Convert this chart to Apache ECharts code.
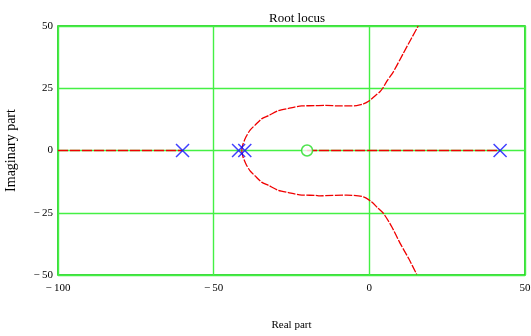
<!DOCTYPE html>
<html>
<head>
<meta charset="utf-8">
<script src="https://cdn.jsdelivr.net/npm/echarts@6/dist/echarts.min.js"></script>
<style>html,body{margin:0;padding:0;background:#fff}#c{width:531px;height:336px}</style>
</head>
<body>
<div id="c"></div>
<script>
// Data
const poles = [[-60, 0], [-42, 0], [-40, 0], [42, 0]];
const zeros = [[-20, 0]];
const realSegLeft = [[-100, 0], [-60, 0]];
const realSegRight = [[-20, 0], [42, 0]];
const upperRe = [-41, -40.6, -39.6, -38.3, -36.7, -34.6, -32.4, -29.2, -26.0, -21.7, -17.4, -14.2, -9.4, -4.1, -1.9, 0, 1.8, 3.4, 4.5, 5.5, 7.7, 10.9, 13.5, 15.7];
const upperIm = [0, 2.5, 5.5, 8.2, 10.2, 12.7, 14.0, 16.0, 16.9, 17.9, 18.0, 18.1, 17.9, 18.0, 18.7, 20.0, 21.9, 23.6, 25.4, 27.6, 31.6, 39.0, 45.0, 50.0];
const lowerRe = [-41, -40.6, -39.6, -38.3, -36.7, -34.6, -32.4, -29.2, -26.0, -21.7, -17.4, -15.9, -7.3, -1.9, 0.7, 2.8, 4.5, 7.2, 9.9, 12.6, 15.2];
const lowerIm = [0, -2.5, -5.5, -8.2, -10.2, -12.7, -14.0, -16.0, -16.9, -17.9, -18.0, -18.2, -17.9, -18.6, -20.6, -23.2, -25.2, -30.6, -37.3, -43.3, -49.7];
const xTicks = { min: -100, max: 50, step: 50 };
const yTicks = { min: -50, max: 50, step: 25 };

const upper = upperRe.map((r, i) => [r, upperIm[i]]);
const lower = lowerRe.map((r, i) => [r, lowerIm[i]]);
const fmt = v => v < 0 ? '\u2212\u2009' + Math.abs(v) : String(v);
const font = 'Liberation Serif';
const red = '#f00000';

const chart = echarts.init(document.getElementById('c'), null, { renderer: 'canvas' });
chart.setOption({
  animation: false,
  backgroundColor: '#fff',
  title: {
    text: 'Root locus', left: 292, top: 7, textAlign: 'center',
    textStyle: { fontFamily: font, fontSize: 13, fontWeight: 'normal', color: '#000' }
  },
  grid: { left: 58, top: 26, width: 467, height: 249, outerBoundsMode: 'none', containLabel: false,
          show: true, borderColor: '#00c800', borderWidth: 1.5, backgroundColor: 'transparent' },
  xAxis: {
    type: 'value', min: xTicks.min, max: xTicks.max, interval: xTicks.step,
    name: 'Real part', nameLocation: 'middle', nameGap: 45,
    nameTextStyle: { fontFamily: font, fontSize: 11, color: '#000' },
    axisLine: { show: false }, axisTick: { show: false },
    axisLabel: { formatter: fmt, fontFamily: font, fontSize: 11, color: '#000', margin: 8 },
    splitLine: { show: true, lineStyle: { color: '#44f044', width: 1.4 } }
  },
  yAxis: {
    type: 'value', min: yTicks.min, max: yTicks.max, interval: yTicks.step,
    name: 'Imaginary part', nameLocation: 'middle', nameGap: 40,
    nameTextStyle: { fontFamily: font, fontSize: 14, color: '#000' },
    axisLine: { show: false }, axisTick: { show: false },
    axisLabel: { formatter: fmt, fontFamily: font, fontSize: 11, color: '#000', margin: 5 },
    splitLine: { show: true, lineStyle: { color: '#44f044', width: 1.4 } }
  },
  series: [
    { type: 'line', data: realSegLeft, symbol: 'none', lineStyle: { color: red, width: 1.5, type: [10, 2] }, z: 3 },
    { type: 'line', data: realSegRight, symbol: 'none', lineStyle: { color: red, width: 1.5, type: [10, 2] }, z: 3 },
    { type: 'line', data: upper, symbol: 'none', smooth: 0.25, lineStyle: { color: red, width: 1.3, type: [8, 1.5] }, z: 3 },
    { type: 'line', data: lower, symbol: 'none', smooth: 0.25, lineStyle: { color: red, width: 1.3, type: [8, 1.5] }, z: 3 },
    {
      type: 'scatter', data: poles, symbol: 'path://M0,0L10,10M10,0L0,10', symbolSize: 13,
      itemStyle: { color: 'none', borderColor: '#1010ff', borderWidth: 1.5 }, z: 5
    },
    {
      type: 'scatter', data: zeros, symbol: 'circle', symbolSize: 11,
      itemStyle: { color: '#fff', borderColor: '#22dd22', borderWidth: 1.5 }, z: 5
    }
  ]
});
</script>
</body>
</html>
